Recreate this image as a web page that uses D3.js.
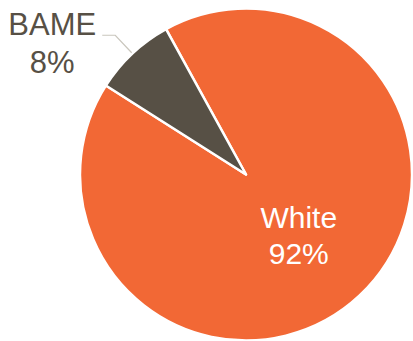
<!DOCTYPE html>
<html>
<head>
<meta charset="utf-8">
<script src="https://cdn.jsdelivr.net/npm/d3@7"></script>
<style>
  html, body { margin: 0; padding: 0; background: #fff; }
  text { font-family: "Liberation Sans", Arial, sans-serif; }
</style>
</head>
<body>
<div id="field"></div>
<script>
'use strict';

const categories = ['White', 'BAME'];
const values = [92, 8];
const labels = ['92%', '8%'];

const w = 413, h = 341,
      cx = 246, cy = 174.5, r = 166,
      colors = d3.scaleOrdinal().domain(categories).range(['#F26835', '#575045']);

const start = -0.08 * 2 * Math.PI;
const pie = d3.pie().sort(null).startAngle(start).endAngle(start + 2 * Math.PI);
const arcs = pie(values);
const arc = d3.arc().innerRadius(0).outerRadius(r);

const svg = d3.select('#field').append('svg').attr('width', w).attr('height', h);
const g = svg.append('g').attr('transform', 'translate(' + cx + ',' + cy + ')');

g.selectAll('path').data(arcs).enter().append('path')
  .attr('d', arc)
  .attr('fill', function(d, i){ return colors(categories[i]); })
  .attr('stroke', '#fff')
  .attr('stroke-width', 2.5)
  .attr('stroke-linejoin', 'round');

// White label inside the slice
const inner = d3.arc().innerRadius(80).outerRadius(80);
const c0 = inner.centroid(arcs[0]);
const t0 = g.append('text').attr('text-anchor', 'middle').attr('fill', '#fff').style('font-size', '30px');
t0.append('tspan').attr('x', c0[0] - 2).attr('y', c0[1] - 5).text(categories[0]);
t0.append('tspan').attr('x', c0[0] - 2).attr('y', c0[1] + 31).text(labels[0]);

// BAME label outside with leader line
const mid = (arcs[1].startAngle + arcs[1].endAngle) / 2;
const pt = function(rad){ return [Math.sin(mid) * rad, -Math.cos(mid) * rad]; };
const p0 = pt(r + 1), p1 = pt(191), p2 = [p1[0] - 13, p1[1]];
g.append('polyline')
  .attr('points', [p0, p1, p2].map(function(p){ return p.join(','); }).join(' '))
  .attr('fill', 'none')
  .attr('stroke', '#C9C6BD')
  .attr('stroke-width', 1.2);
const t1 = g.append('text').attr('text-anchor', 'middle').attr('fill', '#575045').style('font-size', '31px');
t1.append('tspan').attr('x', p2[0] - 50).attr('y', p2[1]).text(categories[1]);
t1.append('tspan').attr('x', p2[0] - 50).attr('y', p2[1] + 38).text(labels[1]);
</script>
</body>
</html>
